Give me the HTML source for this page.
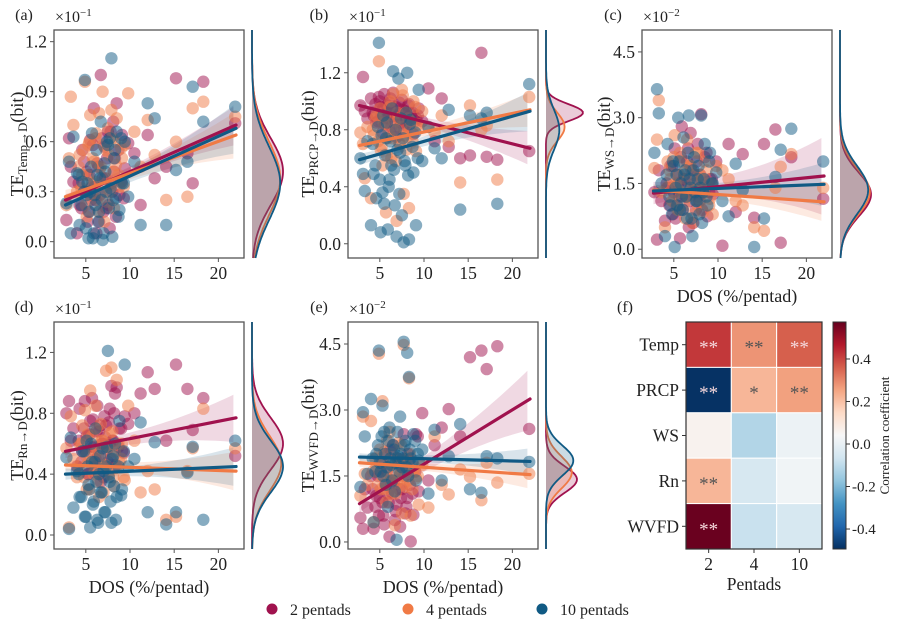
<!DOCTYPE html>
<html><head><meta charset="utf-8"><style>
html,body{margin:0;padding:0;background:#fff;}
svg{display:block;font-family:"Liberation Serif",serif;}
</style></head><body>
<svg id="fig" width="900" height="633" viewBox="0 0 900 633" xmlns="http://www.w3.org/2000/svg"></svg>
<script>
// ---------- DATA ----------
const dos = [2.8,3.1,3.3,3.6,4.0,4.3,4.6,4.9,5.1,5.3,5.5,5.7,5.9,6.1,6.3,6.5,6.7,6.9,7.1,7.3,7.5,7.7,7.9,8.1,8.3,8.5,8.8,9.1,9.4,9.8,10.5,11.2,12.0,12.8,14.1,15.2,16.5,17.1,18.3,21.9,
 4.2,4.5,4.8,5.0,5.2,5.4,5.6,5.8,6.0,6.2,6.4,6.6,6.8,7.0,7.2,7.4,7.6,7.8,8.0,8.2,8.4,8.7,9.0,9.3];
const tempRed = [0.13,0.62,0.45,0.36,0.05,0.22,0.55,0.30,0.42,0.18,0.61,0.33,0.80,0.25,0.47,0.12,1.00,0.38,0.57,0.20,0.66,0.08,0.35,0.72,0.50,0.83,0.28,0.64,0.44,0.59,0.53,0.22,0.64,0.38,0.45,0.98,0.53,0.35,0.96,0.71,
 0.35,0.20,0.48,0.30,0.12,0.40,0.25,0.58,0.33,0.05,0.45,0.28,0.62,0.18,0.38,0.50,0.22,0.66,0.30,0.42,0.15,0.55,0.36,0.26];
const tempOrange = [0.22,0.50,0.87,0.70,0.30,0.52,0.40,0.96,0.15,0.58,0.76,0.35,0.48,0.62,0.25,0.77,0.45,0.90,0.12,0.55,0.68,0.30,0.79,0.42,0.60,0.74,0.33,0.50,0.58,0.89,0.66,0.45,0.73,0.52,0.25,0.60,0.27,0.80,0.84,0.75,
 0.45,0.32,0.55,0.22,0.40,0.60,0.28,0.50,0.36,0.65,0.18,0.44,0.30,0.58,0.38,0.24,0.52,0.34,0.62,0.20,0.46,0.40,0.56,0.33];
const tempBlue = [0.23,0.48,0.05,0.63,0.41,0.10,0.36,0.97,0.28,0.02,0.30,0.65,0.05,0.22,0.40,0.18,0.72,0.01,0.47,0.30,0.58,0.62,1.10,0.25,0.55,0.66,0.19,0.35,0.60,0.27,0.48,0.10,0.83,0.74,0.10,0.43,0.48,0.93,0.72,0.81,
 0.40,0.22,0.30,0.08,0.35,0.18,0.45,0.02,0.28,0.55,0.12,0.38,0.25,0.05,0.42,0.60,0.20,0.32,0.03,0.50,0.26,0.15,0.62,0.35];
const prcpRed = [0.97,1.17,0.93,0.88,1.02,0.90,0.85,1.03,0.96,0.78,1.05,0.88,0.92,0.99,0.82,1.06,0.90,0.75,0.95,0.87,1.01,0.80,0.93,0.85,0.98,0.91,0.77,0.88,0.95,0.86,1.09,0.72,1.02,0.68,0.60,0.62,1.34,0.61,0.59,0.65,
 0.92,0.98,0.86,1.00,0.90,0.95,0.84,0.97,0.88,1.02,0.93,0.80,0.96,0.89,0.99,0.85,0.94,0.91,0.83,0.97,0.88,0.92,0.86,0.90];
const prcpOrange = [0.78,0.70,0.46,0.82,0.32,0.76,0.90,1.28,0.66,0.55,0.85,0.22,0.74,0.96,0.60,1.05,0.80,0.16,0.88,0.70,1.08,0.35,0.92,0.75,0.25,0.86,1.00,0.65,0.83,0.93,0.82,0.78,0.90,0.72,0.43,0.97,0.80,0.83,0.45,1.03,
 0.80,0.88,0.72,0.95,0.68,0.84,0.90,0.62,0.78,1.00,0.74,0.86,0.58,0.92,0.70,0.82,1.04,0.76,0.66,0.88,0.80,0.72,0.96,0.84];
const prcpBlue = [0.60,0.49,0.37,0.72,0.13,0.49,0.32,1.41,0.08,0.36,0.28,0.74,0.10,0.45,0.55,1.21,0.27,0.05,1.16,0.64,0.20,0.01,0.55,1.20,0.03,0.87,0.50,0.13,1.08,0.58,0.82,0.67,0.60,0.94,0.24,0.90,0.88,0.92,0.28,1.12,
 0.70,0.55,0.82,0.45,0.76,0.90,0.62,0.85,0.40,0.72,0.95,0.52,0.80,0.66,0.35,0.88,0.74,0.58,0.92,0.48,0.84,0.68,0.78,0.60];
const wsRed = [1.3,0.22,1.8,1.1,0.65,1.4,1.9,0.8,2.3,1.0,1.5,0.25,2.8,1.6,1.2,2.0,0.5,2.65,1.3,1.7,0.9,2.4,1.1,3.08,1.45,2.1,0.75,1.6,1.25,2.0,0.08,2.4,0.85,2.17,0.72,2.4,2.73,0.15,2.1,1.15,
 1.5,1.0,1.9,1.3,0.7,1.7,1.2,2.1,0.9,1.6,1.4,2.3,1.1,1.8,0.6,1.5,2.0,1.2,1.7,0.9,1.4,2.2,1.3,1.6];
const wsOrange = [1.85,2.5,3.4,1.3,0.5,2.0,1.6,1.1,2.6,1.45,0.9,2.2,1.3,1.75,0.7,2.5,1.2,1.9,0.6,1.35,2.2,1.0,1.7,1.4,0.85,2.0,1.5,1.15,0.8,1.9,1.8,1.6,1.1,1.0,0.5,0.42,1.4,1.88,2.17,1.4,
 1.4,1.8,1.1,2.1,1.5,0.9,1.7,1.3,2.0,1.0,1.6,1.2,1.9,1.4,0.8,1.7,1.5,2.2,1.1,1.6,1.3,1.8,1.0,1.5];
const wsBlue = [2.2,3.65,3.1,1.5,0.3,2.4,1.0,2.0,0.05,1.7,3.0,0.9,1.2,2.55,1.8,0.7,3.05,1.4,0.3,2.1,1.1,1.6,0.8,3.05,1.3,2.4,1.0,2.2,1.5,1.75,1.1,0.75,1.95,1.35,0.05,0.7,1.65,2.27,2.75,2.0,
 1.7,1.2,0.8,1.9,1.4,1.0,2.0,1.5,0.9,1.7,1.2,2.2,1.6,0.7,1.8,1.3,1.1,1.9,1.4,0.6,1.6,1.2,2.0,1.5];
const rnRed = [0.80,0.88,0.62,0.70,0.45,0.83,0.55,0.88,0.65,0.40,0.75,0.90,0.58,0.50,0.85,0.68,0.35,0.60,0.78,0.72,0.48,0.83,0.98,0.62,0.93,0.97,0.70,0.55,0.78,0.73,0.80,0.93,1.07,0.96,0.62,1.12,0.96,0.69,0.90,0.52,
 0.62,0.48,0.70,0.55,0.40,0.66,0.58,0.76,0.45,0.68,0.52,0.72,0.60,0.38,0.64,0.56,0.74,0.50,0.62,0.80,0.46,0.58,0.70,0.54];
const rnOrange = [0.57,0.05,0.78,0.50,0.38,0.60,0.72,0.82,0.30,0.48,0.95,0.65,0.40,0.85,0.55,0.25,0.73,0.62,0.45,1.08,0.58,0.67,1.10,0.38,0.55,1.02,0.48,0.60,0.36,0.85,0.62,0.28,0.42,0.30,0.10,0.12,0.42,0.57,0.83,0.57,
 0.45,0.60,0.38,0.52,0.66,0.30,0.48,0.56,0.42,0.70,0.35,0.50,0.62,0.28,0.46,0.58,0.40,0.54,0.68,0.32,0.44,0.60,0.50,0.38];
const rnBlue = [0.51,0.04,0.64,0.18,0.42,0.25,0.55,0.12,0.62,0.33,0.05,0.48,0.22,0.70,0.10,0.40,0.28,0.57,0.15,0.45,1.21,0.35,0.08,0.52,0.60,0.25,0.75,0.30,1.12,0.45,0.50,0.74,0.15,0.61,0.07,0.15,0.41,0.58,0.10,0.62,
 0.40,0.25,0.55,0.12,0.45,0.30,0.60,0.20,0.48,0.35,0.08,0.52,0.28,0.42,0.15,0.58,0.38,0.22,0.50,0.32,0.10,0.45,0.26,0.55];
const wvfdRed = [0.55,0.30,1.20,0.78,1.50,0.30,1.05,0.60,1.60,0.90,0.40,2.0,1.10,0.12,1.35,2.2,0.50,0.85,1.75,0.35,1.20,2.45,0.65,1.00,1.85,0.01,0.62,2.45,1.15,2.93,1.40,2.20,2.60,3.02,2.40,4.20,4.35,3.93,4.45,2.57,
 1.2,0.8,1.5,1.0,1.8,0.6,1.3,1.6,0.9,2.1,1.1,1.4,0.7,1.9,1.2,1.0,1.7,1.5,0.8,2.0,1.3,1.1,1.6,2.4];
const wvfdOrange = [1.05,2.85,1.55,1.30,2.75,0.45,1.70,4.28,1.20,3.20,2.05,0.90,1.45,2.50,1.10,1.80,0.38,1.35,2.25,1.55,0.65,4.48,1.25,1.90,3.72,0.60,1.60,1.45,0.85,1.75,0.78,2.40,1.30,1.08,1.65,1.48,0.95,1.80,1.35,1.55,
 1.6,1.9,1.3,2.1,1.5,1.8,1.2,2.3,1.7,1.4,2.0,1.6,1.1,1.9,1.5,2.2,1.3,1.8,1.6,1.4,2.0,1.2,1.7,1.5];
const wvfdBlue = [1.25,2.95,2.40,1.55,3.25,0.45,2.00,4.35,1.60,3.10,2.50,1.30,0.80,2.60,1.75,2.20,1.15,0.05,1.95,2.85,1.70,4.55,2.30,4.30,3.75,1.90,2.45,1.40,1.85,2.10,1.10,2.55,1.40,1.95,2.68,1.20,1.12,1.95,1.90,1.82,
 1.9,1.6,2.2,1.8,2.4,1.5,2.0,1.7,2.3,1.9,1.4,2.1,1.8,2.5,1.6,2.0,1.9,2.2,1.7,1.5,2.1,1.8,2.3,2.0];
// regression fits per panel (a..e): value at DOS=2.7 and DOS=22
const fitStartRed = [0.25,0.97,1.28,0.55,0.87];
const fitEndRed = [0.70,0.67,1.67,0.77,3.25];
const fitStartOrange = [0.27,0.69,1.35,0.46,1.80];
const fitEndOrange = [0.64,0.94,1.08,0.42,1.53];
const fitStartBlue = [0.22,0.59,1.33,0.40,1.93];
const fitEndBlue = [0.68,0.93,1.48,0.45,1.83];
const ciEndRed = [0.12,0.12,0.9,0.16,0.70];
const ciEndOrange = [0.14,0.12,0.45,0.13,0.32];
const ciEndBlue = [0.15,0.14,0.5,0.13,0.30];
// marginal densities (mean, sd)
const kdeMeanRed = [0.42,0.92,1.25,0.60,1.42];
const kdeSdRed = [0.20,0.06,0.50,0.17,0.30];
const kdeMeanOrange = [0.38,0.82,1.30,0.47,1.58];
const kdeSdOrange = [0.22,0.10,0.52,0.18,0.36];
const kdeMeanBlue = [0.35,0.80,1.35,0.45,1.85];
const kdeSdBlue = [0.22,0.14,0.55,0.17,0.34];
// heatmap
const hmRows = ["Temp","PRCP","WS","Rn","WVFD"];
const hmCols = ["2","4","10"];
const hmValues = [[0.42,0.28,0.36],[-0.49,0.22,0.26],[0.06,-0.12,0.01],[0.22,-0.05,0.02],[0.57,-0.08,-0.05]];
const hmStars = [["**","**","**"],["**","*","**"],["","",""],["**","",""],["**","",""]];
const cbarTicks = [-0.4,-0.2,0.0,0.2,0.4];
const legendLabels = ["2 pentads","4 pentads","10 pentads"];

// ---------- DRAW ----------
const NS="http://www.w3.org/2000/svg";
const svg=document.getElementById('fig');
function el(tag,attrs,parent){const e=document.createElementNS(NS,tag);for(const k in attrs)e.setAttribute(k,attrs[k]);(parent||svg).appendChild(e);return e;}
const COLORS=["#a0124e","#f07a45","#105a84"];
const panels=[
 {id:'a',name:'temp',x0:54,y0:30,y1:258,ylo:-0.098,yhi:1.27,ticks:[0,0.3,0.6,0.9,1.2],exp:'−1',sub:'Temp→D',series:[tempRed,tempOrange,tempBlue],xl:false,lx:24,ly:20,tx:17},
 {id:'b',name:'prcp',x0:348,y0:30,y1:258,ylo:-0.1,yhi:1.5,ticks:[0,0.4,0.8,1.2],exp:'−1',sub:'PRCP→D',series:[prcpRed,prcpOrange,prcpBlue],xl:false,lx:319,ly:20,tx:308},
 {id:'c',name:'ws',x0:642,y0:30,y1:258,ylo:-0.2,yhi:5.0,ticks:[0,1.5,3.0,4.5],exp:'−2',sub:'WS→D',series:[wsRed,wsOrange,wsBlue],xl:true,lx:613,ly:20,tx:604},
 {id:'d',name:'rn',x0:54,y0:322,y1:549,ylo:-0.092,yhi:1.40,ticks:[0,0.4,0.8,1.2],exp:'−1',sub:'Rn→D',series:[rnRed,rnOrange,rnBlue],xl:true,lx:24,ly:312,tx:17},
 {id:'e',name:'wvfd',x0:348,y0:322,y1:549,ylo:-0.16,yhi:5.0,ticks:[0,1.5,3.0,4.5],exp:'−2',sub:'WVFD→D',series:[wvfdRed,wvfdOrange,wvfdBlue],xl:true,lx:319,ly:312,tx:308}
];
const fitS=[fitStartRed,fitStartOrange,fitStartBlue],fitE=[fitEndRed,fitEndOrange,fitEndBlue],ciE=[ciEndRed,ciEndOrange,ciEndBlue];
const kM=[kdeMeanRed,kdeMeanOrange,kdeMeanBlue],kS=[kdeSdRed,kdeSdOrange,kdeSdBlue];
const XLO=1.4,XHI=22.9,W=190;
panels.forEach((p,pi)=>{
  const g=el('g',{});
  
  
  const sx=v=>p.x0+(v-XLO)/(XHI-XLO)*W;
  const sy=v=>p.y1-(v-p.ylo)/(p.yhi-p.ylo)*(p.y1-p.y0);
  p.series.forEach((s,si)=>{
    const a=fitS[si][pi],b=fitE[si][pi],ce=ciE[si][pi];
    const f=x=>a+(b-a)*(x-2.7)/(22-2.7);
    const hw=x=>ce*(0.22+0.78*Math.pow((x-7)/15,2));
    let up=[],dn=[];
    for(let x=2.7;x<=22.001;x+=0.5){up.push(sx(x).toFixed(1)+','+sy(f(x)+hw(x)).toFixed(1));dn.unshift(sx(x).toFixed(1)+','+sy(f(x)-hw(x)).toFixed(1));}
    const band=el('polygon',{points:up.concat(dn).join(' '),fill:COLORS[si],'fill-opacity':0.16,stroke:'none'},g);
    
    
  });
  p.series.forEach((s,si)=>{
    s.forEach((v,i)=>{
      const c=el('circle',{cx:sx(dos[i]).toFixed(1),cy:sy(v).toFixed(1),r:6.2,fill:COLORS[si],'fill-opacity':0.5},g);
      
      
    });
  });
  p.series.forEach((s,si)=>{
    const ln=el('line',{x1:sx(2.7),y1:sy(fitS[si][pi]),x2:sx(22),y2:sy(fitE[si][pi]),stroke:COLORS[si],'stroke-width':3.2,'stroke-linecap':'round'},g);
    
    
  });
  const fr=el('rect',{x:p.x0,y:p.y0,width:W,height:p.y1-p.y0,fill:'none',stroke:'#555','stroke-width':1.3},g);
  
  
  p.ticks.forEach(t=>{
    const y=sy(t);
    el('line',{x1:p.x0-4,y1:y,x2:p.x0,y2:y,stroke:'#555','stroke-width':1},g);
    const tx=el('text',{x:p.x0-7,y:y+6,'text-anchor':'end','font-size':17.5,fill:'#222'},g);
    tx.textContent=t.toFixed(1);
    
    
  });
  [5,10,15,20].forEach(t=>{
    const x=sx(t);
    el('line',{x1:x,y1:p.y1,x2:x,y2:p.y1+4,stroke:'#555','stroke-width':1},g);
    const tx=el('text',{x:x,y:p.y1+21,'text-anchor':'middle','font-size':17.5,fill:'#222'},g);
    tx.textContent=t;
    
    
  });
  const ex=el('text',{x:p.x0+1,y:p.y0-8,'font-size':16,fill:'#222'},g);
  ex.innerHTML='×10<tspan dy="-6" font-size="11">'+p.exp+'</tspan>';
  
  
  const pl=el('text',{x:p.lx,y:p.ly,'font-size':16,fill:'#222','text-anchor':'middle'},g);
  pl.textContent='('+p.id+')';
  
  
  const cy=(p.y0+p.y1)/2;
  const yt=el('text',{x:0,y:0,'font-size':18,fill:'#222','text-anchor':'middle',transform:'translate('+(p.tx+6)+','+cy+') rotate(-90)'},g);
  yt.innerHTML='TE<tspan dy="4" font-size="13">'+p.sub+'</tspan><tspan dy="-4">(bit)</tspan>';
  
  
  if(p.xl){
    const xt=el('text',{x:p.x0+W/2,y:p.y1+44,'font-size':18,fill:'#222','text-anchor':'middle'},g);
    xt.textContent='DOS (%/pentad)';
    
    
  }
  const kx=p.x0+W+8;
  let minSd=Math.min(kS[0][pi],kS[1][pi],kS[2][pi]);
  p.series.forEach((s,si)=>{
    const m=kM[si][pi],sd=kS[si][pi];
    const amp=(si===0&&pi===1?37:31)*minSd/sd;
    let pts=[];
    for(let k=0;k<=120;k++){const v=p.ylo+(p.yhi-p.ylo)*k/120;const w=amp*Math.exp(-0.5*Math.pow((v-m)/sd,2));pts.push((kx+w).toFixed(1)+','+sy(v).toFixed(1));}
    const area=el('polygon',{points:kx+','+p.y1+' '+pts.join(' ')+' '+kx+','+p.y0,fill:COLORS[si],'fill-opacity':0.22,stroke:'none'},g);
    
    
    const cur=el('polyline',{points:pts.join(' '),fill:'none',stroke:COLORS[si],'stroke-width':1.8},g);
    
    
  });
});

// ---------- HEATMAP ----------
const stops=["#053061","#2166ac","#4393c3","#92c5de","#d1e5f0","#f7f7f7","#fddbc7","#f4a582","#d6604d","#b2182b","#67001f"];
const VMIN=-0.494,VMAX=0.574;
function hex(h){return [1,3,5].map(i=>parseInt(h.substr(i,2),16));}
function cmap(v){let t=(v-VMIN)/(VMAX-VMIN);t=Math.max(0,Math.min(1,t))*10;const i=Math.min(9,Math.floor(t)),f=t-i;const a=hex(stops[i]),b=hex(stops[i+1]);return 'rgb('+a.map((c,k)=>Math.round(c+(b[k]-c)*f)).join(',')+')';}
const hg=el('g',{});


const HX=686,HY=322,HW=136,HH=227,cw=HW/3,ch=HH/5;
hmValues.forEach((row,r)=>row.forEach((v,c)=>{
  const rc=el('rect',{x:HX+c*cw,y:HY+r*ch,width:cw,height:ch,fill:cmap(v),stroke:'#fff','stroke-width':1},hg);
  
  
  if(hmStars[r][c]){
    const st=el('text',{x:HX+c*cw+cw/2,y:HY+r*ch+ch/2+9,'text-anchor':'middle','font-size':19,fill:Math.abs(v)>0.33?'#f4d6da':'#555'},hg);
    st.textContent=hmStars[r][c];
    
    
  }
}));
el('rect',{x:HX,y:HY,width:HW,height:HH,fill:'none',stroke:'#333','stroke-width':1.2},hg);
hmRows.forEach((n,r)=>{
  const y=HY+r*ch+ch/2;
  el('line',{x1:HX-4,y1:y,x2:HX,y2:y,stroke:'#333'},hg);
  const t=el('text',{x:HX-7,y:y+6,'text-anchor':'end','font-size':17.5,fill:'#222'},hg);
  t.textContent=n;
  
  
});
hmCols.forEach((n,c)=>{
  const x=HX+c*cw+cw/2;
  el('line',{x1:x,y1:HY+HH,x2:x,y2:HY+HH+4,stroke:'#333'},hg);
  const t=el('text',{x:x,y:HY+HH+21,'text-anchor':'middle','font-size':17.5,fill:'#222'},hg);
  t.textContent=n;
  
  
});
const px=el('text',{x:HX+HW/2,y:HY+HH+41,'text-anchor':'middle','font-size':17.5,fill:'#222'},hg);
px.textContent='Pentads';


const fl=el('text',{x:625,y:312,'text-anchor':'middle','font-size':16,fill:'#222'},hg);
fl.textContent='(f)';


const defs=el('defs',{});
const lg=el('linearGradient',{id:'cb',x1:0,y1:1,x2:0,y2:0},defs);
stops.forEach((s,i)=>el('stop',{offset:(i/10),'stop-color':s},lg));
const CBX=833,CBW=13;
const cb=el('rect',{x:CBX,y:HY,width:CBW,height:HH,fill:'url(#cb)',stroke:'#333','stroke-width':1},hg);


cbarTicks.forEach(t=>{
  const y=HY+HH-(t-VMIN)/(VMAX-VMIN)*HH;
  el('line',{x1:CBX+CBW,y1:y,x2:CBX+CBW+4,y2:y,stroke:'#333'},hg);
  const tx=el('text',{x:CBX+CBW+6,y:y+5,'font-size':15,fill:'#222'},hg);
  tx.textContent=(t===0?'0.0':t.toFixed(1));
  
  
});
const cbt=el('text',{x:0,y:0,'font-size':13,fill:'#222','text-anchor':'middle',transform:'translate(889,'+(HY+HH/2)+') rotate(-90)'},hg);
cbt.textContent='Correlation coefficient';



// ---------- LEGEND ----------
const lgG=el('g',{});


[272,408,542].forEach((x,i)=>{
  const e=el('g',{},lgG);
  
  
  el('circle',{cx:x,cy:609,r:5.5,fill:COLORS[i]},e);
  const t=el('text',{x:x+18,y:615,'font-size':16,fill:'#222'},e);
  t.textContent=legendLabels[i];
});
</script>
</body></html>
